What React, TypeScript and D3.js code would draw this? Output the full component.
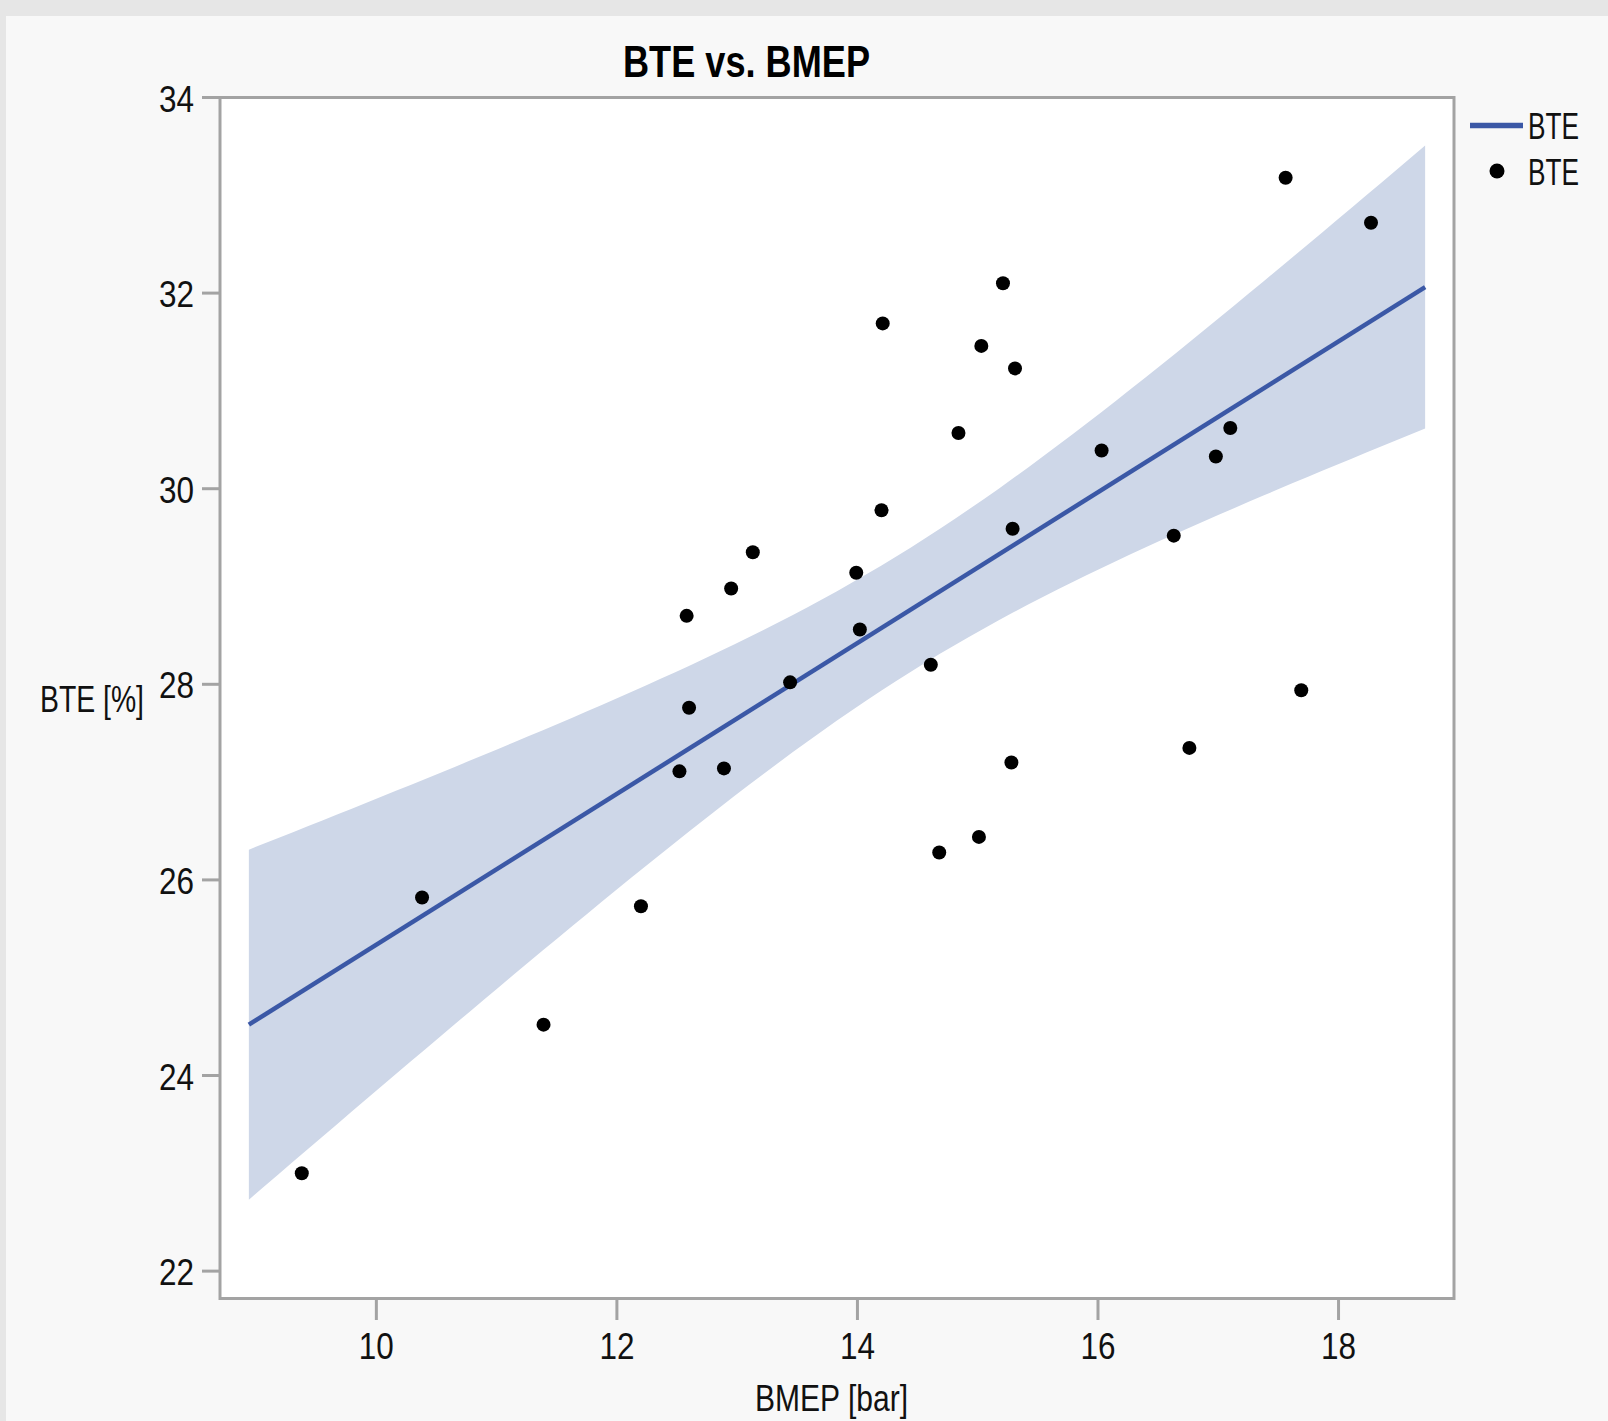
import * as d3 from 'd3'

const WIDTH = 1608
const HEIGHT = 1421
const PLOT = { left: 220, top: 97.5, right: 1454, bottom: 1298.5 }

// BMEP [bar] and BTE [%] pairs
const BMEP = [
  9.38, 10.38, 11.39, 12.2, 12.52, 12.58, 12.6, 12.89, 12.95, 13.13, 13.44, 13.99, 14.02, 14.2, 14.21, 14.61,
  14.68, 14.84, 15.01, 15.03, 15.21, 15.29, 15.31, 15.28, 16.03, 16.63, 16.76, 16.98, 17.1, 17.56, 17.69, 18.27,
]
const BTE = [
  23.0, 25.82, 24.52, 25.73, 27.11, 28.7, 27.76, 27.14, 28.98, 29.35, 28.02, 29.14, 28.56, 29.78, 31.69, 28.2,
  26.28, 30.57, 26.44, 31.46, 32.1, 29.59, 31.23, 27.2, 30.39, 29.52, 27.35, 30.33, 30.62, 33.18, 27.94, 32.72,
]

const X_TICKS = [10, 12, 14, 16, 18]
const Y_TICKS = [22, 24, 26, 28, 30, 32, 34]
const X_DOMAIN = [8.7, 18.96]
const Y_DOMAIN = [21.72, 34]
const FIT_RANGE = [8.94, 18.72]
const T_CRIT = 2.042 // t(0.975, df = 30)

const FONT = '"Liberation Sans Narrow", "Liberation Sans", Arial, sans-serif'
const FRAME = '#a3a3a3'
const LINE = '#3b58a6'
const BAND = '#ced7e8'

function fitLine(xs: number[], ys: number[]) {
  const n = xs.length
  const mx = d3.mean(xs) as number
  const my = d3.mean(ys) as number
  const sxx = d3.sum(xs, (x) => (x - mx) ** 2)
  const sxy = d3.sum(xs, (x, i) => (x - mx) * (ys[i] - my))
  const slope = sxy / sxx
  const intercept = my - slope * mx
  const sse = d3.sum(xs, (x, i) => (ys[i] - (intercept + slope * x)) ** 2)
  const s = Math.sqrt(sse / (n - 2))
  const predict = (x: number) => intercept + slope * x
  const half = (x: number) => T_CRIT * s * Math.sqrt(1 / n + (x - mx) ** 2 / sxx)
  return { predict, half }
}

export default function App() {
  const x = d3.scaleLinear().domain(X_DOMAIN).range([PLOT.left, PLOT.right])
  const y = d3.scaleLinear().domain(Y_DOMAIN).range([PLOT.bottom, PLOT.top])

  const { predict, half } = fitLine(BMEP, BTE)
  const steps = d3.range(0, 81).map((i) => FIT_RANGE[0] + ((FIT_RANGE[1] - FIT_RANGE[0]) * i) / 80)

  const band = d3
    .area<number>()
    .x((v) => x(v))
    .y0((v) => y(predict(v) - half(v)))
    .y1((v) => y(predict(v) + half(v)))
  const line = d3
    .line<number>()
    .x((v) => x(v))
    .y((v) => y(predict(v)))

  const points = BMEP.map((b, i) => ({ b, e: BTE[i] }))

  return (
    <svg
      width={WIDTH}
      height={HEIGHT}
      style={{ position: 'absolute', left: 0, top: 0, display: 'block' }}
      fontFamily={FONT}
    >
      <rect width={WIDTH} height={HEIGHT} fill="#e6e6e6" />
      <rect x={6} y={16} width={WIDTH - 6} height={HEIGHT - 16} fill="#f8f8f8" />

      <text
        x={623}
        y={77}
        fontSize={44}
        fontWeight="bold"
        fill="#000"
        textLength={247}
        lengthAdjust="spacingAndGlyphs"
      >
        BTE vs. BMEP
      </text>

      <rect
        x={PLOT.left}
        y={PLOT.top}
        width={PLOT.right - PLOT.left}
        height={PLOT.bottom - PLOT.top}
        fill="#fff"
      />

      <path d={band(steps) ?? ''} fill={BAND} />
      <path d={line(FIT_RANGE) ?? ''} fill="none" stroke={LINE} strokeWidth={4.5} />

      <g>
        {points.map((p, i) => (
          <circle key={i} cx={x(p.b)} cy={y(p.e)} r={7} fill="#000" />
        ))}
      </g>

      <rect
        x={PLOT.left}
        y={PLOT.top}
        width={PLOT.right - PLOT.left}
        height={PLOT.bottom - PLOT.top}
        fill="none"
        stroke={FRAME}
        strokeWidth={3}
      />

      <g>
        {Y_TICKS.map((t) => (
          <g key={t}>
            <line x1={202} x2={PLOT.left} y1={y(t)} y2={y(t)} stroke={FRAME} strokeWidth={3} />
            <text
              x={159}
              y={y(t) + 14}
              fontSize={37}
              fill="#111"
              textLength={35}
              lengthAdjust="spacingAndGlyphs"
            >
              {t}
            </text>
          </g>
        ))}
      </g>

      <g>
        {X_TICKS.map((t) => (
          <g key={t}>
            <line x1={x(t)} x2={x(t)} y1={PLOT.bottom} y2={1320} stroke={FRAME} strokeWidth={3} />
            <text
              x={x(t) - 17.5}
              y={1359}
              fontSize={37}
              fill="#111"
              textLength={35}
              lengthAdjust="spacingAndGlyphs"
            >
              {t}
            </text>
          </g>
        ))}
      </g>

      <text x={40} y={712} fontSize={37} fill="#111" textLength={104} lengthAdjust="spacingAndGlyphs">
        BTE [%]
      </text>
      <text x={755} y={1411} fontSize={37} fill="#111" textLength={153} lengthAdjust="spacingAndGlyphs">
        BMEP [bar]
      </text>

      <g>
        <line x1={1470} x2={1523} y1={125.5} y2={125.5} stroke={LINE} strokeWidth={5.5} />
        <text x={1528} y={139} fontSize={37} fill="#111" textLength={51} lengthAdjust="spacingAndGlyphs">
          BTE
        </text>
        <circle cx={1497} cy={171} r={7.5} fill="#000" />
        <text x={1528} y={185} fontSize={37} fill="#111" textLength={51} lengthAdjust="spacingAndGlyphs">
          BTE
        </text>
      </g>
    </svg>
  )
}
